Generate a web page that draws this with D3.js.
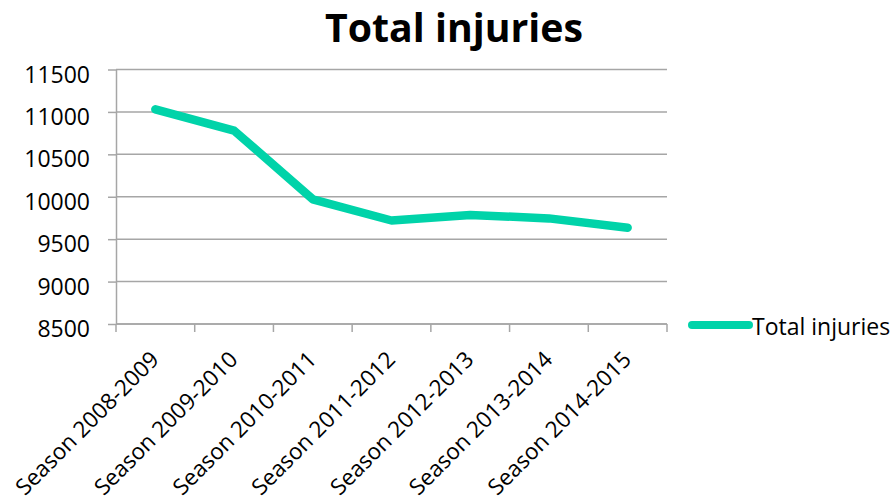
<!DOCTYPE html>
<html>
<head>
<meta charset="utf-8">
<title>Total injuries</title>
<script src="https://cdn.jsdelivr.net/npm/d3@7"></script>
<style>
	body { margin: 0; background: #fff; }
	text { font-family: "Open Sans", sans-serif; fill: #000; }
</style>
</head>
<body>
<div id="vis"></div>
<script>
var seasons = ["Season 2008-2009", "Season 2009-2010", "Season 2010-2011", "Season 2011-2012",
	"Season 2012-2013", "Season 2013-2014", "Season 2014-2015"];
var injuries = [11030, 10780, 9970, 9720, 9785, 9745, 9635];
var yTicks = [8500, 9000, 9500, 10000, 10500, 11000, 11500];
var seriesName = "Total injuries";
var chartTitle = "Total injuries";

var svg, xScale, yScale;

createChart();

function createChart() {
	var w = 895;
	var h = 500;
	var left = 116, right = 667, top = 69.5, bottom = 324;
	var lineColor = "#00d3a9";
	var gridColor = "#a6a6a6";

	svg = d3.select("#vis")
		.append("svg")
		.attr("width", w)
		.attr("height", h);

	xScale = d3.scaleBand()
		.domain(seasons)
		.range([left, right])
		.padding(0);

	yScale = d3.scaleLinear()
		.domain([d3.min(yTicks), d3.max(yTicks)])
		.range([bottom, top]);

	// gridlines
	svg.append("g")
		.selectAll("line")
		.data(yTicks)
		.enter()
		.append("line")
		.attr("x1", left)
		.attr("x2", right)
		.attr("y1", function(d) { return yScale(d); })
		.attr("y2", function(d) { return yScale(d); })
		.attr("stroke", gridColor)
		.attr("stroke-width", 1.5);

	// y axis
	var yAxis = svg.append("g")
		.attr("transform", "translate(" + left + ",0)")
		.call(d3.axisLeft(yScale)
			.tickValues(yTicks)
			.tickFormat(d3.format("d"))
			.tickSize(8)
			.tickSizeOuter(0)
			.tickPadding(18));
	yAxis.select(".domain").attr("stroke", gridColor).attr("stroke-width", 1.5);
	yAxis.selectAll(".tick line").attr("stroke", gridColor).attr("stroke-width", 1.5);
	yAxis.selectAll(".tick text")
		.attr("dy", "0.55em")
		.style("font-size", "23px")
		.style("font-family", "'Open Sans', sans-serif")
		.attr("fill", "#000");

	// x axis: ticks between categories
	var xAxis = svg.append("g");
	xAxis.append("line")
		.attr("x1", left)
		.attr("x2", right)
		.attr("y1", bottom)
		.attr("y2", bottom)
		.attr("stroke", gridColor)
		.attr("stroke-width", 1.5);

	var edges = seasons.map(function(d) { return xScale(d); });
	edges.push(xScale(seasons[seasons.length - 1]) + xScale.bandwidth());

	xAxis.selectAll("line.tick")
		.data(edges)
		.enter()
		.append("line")
		.attr("class", "tick")
		.attr("x1", function(d) { return d; })
		.attr("x2", function(d) { return d; })
		.attr("y1", bottom)
		.attr("y2", bottom + 8)
		.attr("stroke", gridColor)
		.attr("stroke-width", 1.5);

	xAxis.selectAll("text")
		.data(seasons)
		.enter()
		.append("text")
		.attr("text-anchor", "end")
		.attr("transform", function(d) {
			var cx = xScale(d) + xScale.bandwidth() / 2 + 5;
			return "translate(" + cx + "," + (bottom + 37) + ") rotate(-45)";
		})
		.style("font-size", "22.5px")
		.text(function(d) { return d; });

	// the line
	var line = d3.line()
		.x(function(d, i) { return xScale(seasons[i]) + xScale.bandwidth() / 2; })
		.y(function(d) { return yScale(d); });

	svg.append("path")
		.datum(injuries)
		.attr("d", line)
		.attr("fill", "none")
		.attr("stroke", lineColor)
		.attr("stroke-width", 8.5)
		.attr("stroke-linecap", "round")
		.attr("stroke-linejoin", "round");

	// title
	var title = svg.append("text")
		.attr("x", 454)
		.attr("y", 42)
		.attr("text-anchor", "middle")
		.style("font-weight", "bold")
		.style("font-size", "36px")
		.text(chartTitle);
	var tw = title.node().getComputedTextLength();
	title.style("font-size", (36 * 258 / tw) + "px");

	// legend
	var legend = svg.append("g");
	legend.append("line")
		.attr("x1", 692)
		.attr("x2", 749)
		.attr("y1", 325)
		.attr("y2", 325)
		.attr("stroke", lineColor)
		.attr("stroke-width", 8)
		.attr("stroke-linecap", "round");
	legend.append("text")
		.attr("x", 752)
		.attr("y", 335)
		.style("font-size", "23px")
		.text(seriesName);
}
</script>
</body>
</html>
